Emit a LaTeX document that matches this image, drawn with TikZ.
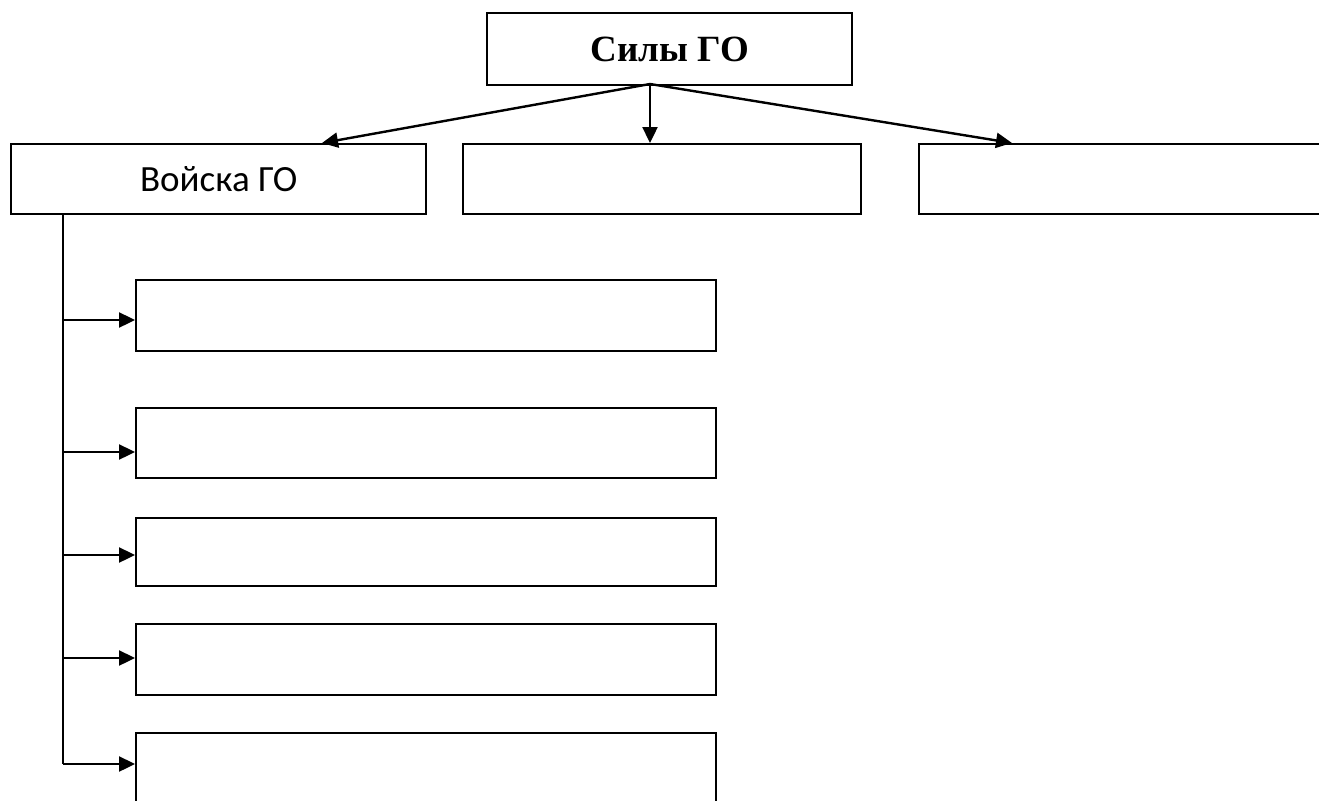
\documentclass[tikz,border=0pt]{standalone}
\usepackage{fontspec}
\setmainfont{Liberation Serif}
\newfontfamily\calib{Carlito}
\usetikzlibrary{arrows.meta}
\begin{document}
\begin{tikzpicture}[x=1pt,y=-1pt,
  box/.style={draw,line width=2.4pt,inner sep=0pt,anchor=north west},
  conn/.style={line width=2.4pt,-{Triangle[length=16pt,width=15pt]}},
  plain/.style={line width=2.4pt}]
\useasboundingbox (0,0) rectangle (1319,800);
\clip (0,0) rectangle (1319,800);
\node[box,minimum width=365pt,minimum height=72pt,font=\fontsize{37}{42}\selectfont\bfseries] (top) at (486,12) {Силы ГО};
\node[box,minimum width=415pt,minimum height=70pt,font=\calib\fontsize{37}{42}\selectfont] (v) at (10,143) {Войска ГО};
\node[box,minimum width=398pt,minimum height=70pt] (m) at (462,143) {};
\node[box,minimum width=420pt,minimum height=70pt] (r) at (918,143) {};
\node[box,minimum width=580pt,minimum height=71pt] (b1) at (135,279) {};
\node[box,minimum width=580pt,minimum height=70pt] (b2) at (135,407) {};
\node[box,minimum width=580pt,minimum height=68pt] (b3) at (135,517) {};
\node[box,minimum width=580pt,minimum height=71pt] (b4) at (135,623) {};
\node[box,minimum width=580pt,minimum height=90pt] (b5) at (135,732) {};
\coordinate (s) at (650,84);
\coordinate (vt) at (322,143);
\coordinate (rt) at (1012,143);
\draw[conn] (s) -- (vt);
\draw[conn] (s) -- (s |- m.north);
\draw[conn] (s) -- (rt);
\coordinate (tr) at (63,213);
\coordinate (tb) at (63,764);
\draw[plain] (tr) -- (tb);
\foreach \n/\yy in {b1/320,b2/452,b3/555,b4/658,b5/764}{
  \coordinate (a\n) at (63,\yy);
  \draw[conn] (a\n) -- (\n.west |- a\n);
}
\end{tikzpicture}
\end{document}
